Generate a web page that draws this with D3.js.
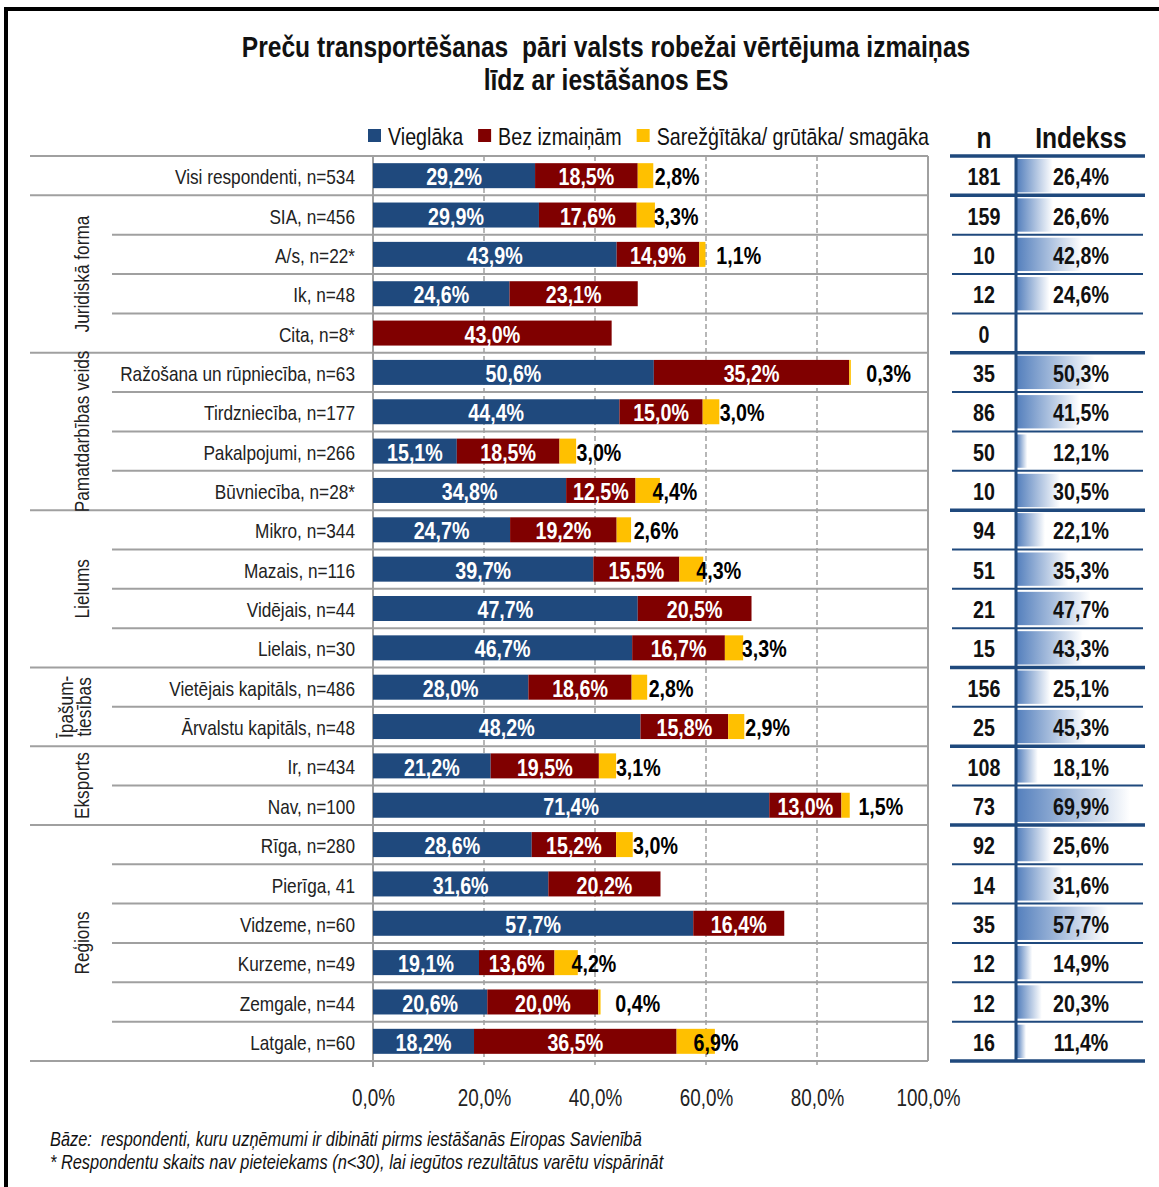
<!DOCTYPE html>
<html>
<head>
<meta charset="utf-8">
<script src="https://cdn.jsdelivr.net/npm/d3@7"></script>
<style>
  body { margin: 0; background: #fff; }
  svg { display: block; }
  text { font-family: "Liberation Sans", Arial, sans-serif; }
</style>
</head>
<body>
<svg id="chart"></svg>
<script>
var titleLines = ["Preču transportēšanas  pāri valsts robežai vērtējuma izmaiņas", "līdz ar iestāšanos ES"];
var seriesNames = ["Vieglāka", "Bez izmaiņām", "Sarežģītāka/ grūtāka/ smagāka"];
var rowLabels = [
  "Visi respondenti, n=534",
  "SIA, n=456", "A/s, n=22*", "Ik, n=48", "Cita, n=8*",
  "Ražošana un rūpniecība, n=63", "Tirdzniecība, n=177", "Pakalpojumi, n=266", "Būvniecība, n=28*",
  "Mikro, n=344", "Mazais, n=116", "Vidējais, n=44", "Lielais, n=30",
  "Vietējais kapitāls, n=486", "Ārvalstu kapitāls, n=48",
  "Ir, n=434", "Nav, n=100",
  "Rīga, n=280", "Pierīga, 41", "Vidzeme, n=60", "Kurzeme, n=49", "Zemgale, n=44", "Latgale, n=60"
];
var groupNames = ["", "Juridiskā forma", "Pamatdarbības veids", "Lielums", "Īpašum-|tiesības", "Eksports", "Reģions"];
var groupSizes = [1, 4, 4, 4, 2, 2, 6];
var easier   = [29.2, 29.9, 43.9, 24.6, 0, 50.6, 44.4, 15.1, 34.8, 24.7, 39.7, 47.7, 46.7, 28.0, 48.2, 21.2, 71.4, 28.6, 31.6, 57.7, 19.1, 20.6, 18.2];
var noChange = [18.5, 17.6, 14.9, 23.1, 43.0, 35.2, 15.0, 18.5, 12.5, 19.2, 15.5, 20.5, 16.7, 18.6, 15.8, 19.5, 13.0, 15.2, 20.2, 16.4, 13.6, 20.0, 36.5];
var harder   = [2.8, 3.3, 1.1, 0, 0, 0.3, 3.0, 3.0, 4.4, 2.6, 4.3, 0, 3.3, 2.8, 2.9, 3.1, 1.5, 3.0, 0, 0, 4.2, 0.4, 6.9];
var nValues  = [181, 159, 10, 12, 0, 35, 86, 50, 10, 94, 51, 21, 15, 156, 25, 108, 73, 92, 14, 35, 12, 12, 16];
var indexValues = [26.4, 26.6, 42.8, 24.6, null, 50.3, 41.5, 12.1, 30.5, 22.1, 35.3, 47.7, 43.3, 25.1, 45.3, 18.1, 69.9, 25.6, 31.6, 57.7, 14.9, 20.3, 11.4];
var xTicks = [0, 20, 40, 60, 80, 100];
var notes = [
  "Bāze:  respondenti, kuru uzņēmumi ir dibināti pirms iestāšanās Eiropas Savienībā",
  "* Respondentu skaits nav pieteiekams (n<30), lai iegūtos rezultātus varētu vispārināt"
];

var colors = ["#1f497d", "#800000", "#ffc000"];
var W = 1159, H = 1187;
var NARROW = 0.82;   // Arial Narrow look: squeeze Liberation Sans horizontally
var fmt = function(v) { return v.toFixed(1).replace(".", ",") + "%"; };

var svg = d3.select("#chart").attr("width", W).attr("height", H);

// helper: narrow text anchored at (x, y)
function ntext(parent, px, py, str, size, opts) {
  opts = opts || {};
  var g = parent.append("g")
    .attr("transform", "translate(" + px + "," + py + ")" + (opts.rotate ? " rotate(" + opts.rotate + ")" : "") + " scale(" + NARROW + ",1)");
  var t = g.append("text")
    .attr("dy", opts.dy || "0.36em")
    .attr("text-anchor", opts.anchor || "start")
    .attr("font-size", size)
    .attr("font-weight", opts.bold ? "bold" : null)
    .attr("font-style", opts.italic ? "italic" : null)
    .attr("fill", opts.fill || "#111")
    .style("white-space", "pre")
    .text(str);
  return t;
}

// outer frame
svg.append("rect")
  .attr("x", 6).attr("y", 9).attr("width", W + 20).attr("height", H + 20)
  .attr("fill", "none").attr("stroke", "#000").attr("stroke-width", 4);

// title
titleLines.forEach(function(line, i) {
  ntext(svg, 606, 46 + i * 33, line, 30, { anchor: "middle", bold: true });
});

var x = d3.scaleLinear().domain([0, 100]).range([373, 928]);
var y = d3.scaleBand().domain(d3.range(rowLabels.length)).range([156, 1061]);
var barH = 25;
var yMid = i => y(i) + y.bandwidth() / 2;

// group boundaries
var bounds = [0];
groupSizes.forEach(s => bounds.push(bounds[bounds.length - 1] + s));
var rowEdge = i => i < rowLabels.length ? y(i) : y.range()[1];

// horizontal row lines
var lineG = svg.append("g");
d3.range(rowLabels.length + 1).forEach(function(i) {
  var isGroup = bounds.indexOf(i) >= 0;
  lineG.append("line")
    .attr("x1", isGroup ? 30 : 112).attr("x2", x(100))
    .attr("y1", rowEdge(i)).attr("y2", rowEdge(i))
    .attr("stroke", "#a0a0a0").attr("stroke-width", 2);
});

// vertical gridlines
svg.append("g").selectAll("line")
  .data(xTicks.slice(1, -1)).enter().append("line")
  .attr("x1", d => x(d)).attr("x2", d => x(d))
  .attr("y1", y.range()[0]).attr("y2", y.range()[1] + 6)
  .attr("stroke", "#a0a0a0").attr("stroke-width", 1.5)
  .attr("stroke-dasharray", "5,3");

[0, 100].forEach(function(v) {
  svg.append("line")
    .attr("x1", x(v)).attr("x2", x(v))
    .attr("y1", y.range()[0]).attr("y2", y.range()[1] + (v === 0 ? 6 : 0))
    .attr("stroke", "#a0a0a0").attr("stroke-width", 2);
});

// stacked bars
var rowsData = rowLabels.map((l, i) => ({ i: i, vals: [easier[i], noChange[i], harder[i]] }));
var stack = d3.stack().keys([0, 1, 2]).value((d, k) => d.vals[k]);
var series = stack(rowsData);

var barG = svg.append("g");
series.forEach(function(s, k) {
  barG.selectAll(null).data(s.filter(d => d[1] - d[0] > 0)).enter().append("rect")
    .attr("x", d => x(d[0]))
    .attr("y", d => y(d.data.i) + (y.bandwidth() - barH) / 2)
    .attr("width", d => x(d[1]) - x(d[0]))
    .attr("height", barH)
    .attr("fill", colors[k]);
});

// segment labels
series.forEach(function(s, k) {
  var inside = k < 2;
  s.filter(d => d[1] - d[0] > 0).forEach(function(d) {
    var px = inside ? (x(d[0]) + x(d[1])) / 2 : x(d[0]) + 17;
    ntext(barG, px, yMid(d.data.i) + 1, fmt(d[1] - d[0]), 24,
      { anchor: inside ? "middle" : "start", bold: true, fill: inside ? "#fff" : "#000" });
  });
});

// row labels
var labG = svg.append("g");
rowLabels.forEach(function(l, i) {
  ntext(labG, 355, yMid(i) + 1, l, 21, { anchor: "end", fill: "#222" });
});

// group labels (rotated)
groupNames.forEach(function(name, g) {
  if (!name) return;
  var yc = (rowEdge(bounds[g]) + rowEdge(bounds[g + 1])) / 2;
  var parts = name.split("|");
  parts.forEach(function(p, j) {
    var px = parts.length > 1 ? 65 + j * 18 : 81;
    ntext(svg, px, yc, p, 21, { anchor: "middle", rotate: -90, fill: "#222" });
  });
});

// x axis
var xAxis = d3.axisBottom(x).tickValues(xTicks).tickFormat(fmt).tickSize(0).tickPadding(0);
var ax = svg.append("g").attr("transform", "translate(0,1090)").call(xAxis);
ax.select(".domain").remove();
ax.selectAll("text")
  .attr("font-size", 23).attr("fill", "#222")
  .attr("font-family", null)
  .attr("transform", "scale(" + NARROW + ",1)");

// legend
var legend = svg.append("g");
var lx = 368;
seriesNames.forEach(function(name, k) {
  legend.append("rect").attr("x", lx).attr("y", 129).attr("width", 13).attr("height", 13).attr("fill", colors[k]);
  var t = ntext(legend, lx + 20, 136, name, 24, { fill: "#111" });
  lx += 20 + t.node().getComputedTextLength() * NARROW + 15;
});

// right table
var tx0 = 950, tx1 = 1143, tDiv = 1016, nX = 984, idxX = 1081;
ntext(svg, nX, 137, "n", 30, { anchor: "middle", bold: true });
ntext(svg, idxX, 137, "Indekss", 30, { anchor: "middle", bold: true });

var defs = svg.append("defs");
var grad = defs.append("linearGradient").attr("id", "dbar").attr("x1", 0).attr("x2", 1).attr("y1", 0).attr("y2", 0);
grad.append("stop").attr("offset", "0%").attr("stop-color", "#5580bd");
grad.append("stop").attr("offset", "100%").attr("stop-color", "#ffffff");

var idxScale = d3.scaleLinear()
  .domain([d3.min(indexValues.filter(v => v != null)), d3.max(indexValues)])
  .range([9, 113]);

var tbl = svg.append("g");
tbl.selectAll("rect").data(indexValues.map((v, i) => ({ v: v, i: i })).filter(d => d.v != null))
  .enter().append("rect")
  .attr("x", tDiv + 1)
  .attr("y", d => y(d.i) + 3)
  .attr("width", d => idxScale(d.v))
  .attr("height", y.bandwidth() - 6)
  .attr("fill", "url(#dbar)");

d3.range(rowLabels.length + 1).forEach(function(i) {
  var isGroup = bounds.indexOf(i) >= 0;
  tbl.append("line")
    .attr("x1", isGroup ? tx0 : tx0 + 2).attr("x2", isGroup ? tx1 + 2 : tx1)
    .attr("y1", rowEdge(i)).attr("y2", rowEdge(i))
    .attr("stroke", "#1f497d").attr("stroke-width", isGroup ? 3.5 : 2);
});
tbl.append("line").attr("x1", tDiv).attr("x2", tDiv).attr("y1", y.range()[0]).attr("y2", y.range()[1] + 1)
  .attr("stroke", "#1f497d").attr("stroke-width", 3);

nValues.forEach(function(v, i) {
  ntext(tbl, nX, yMid(i) + 1, String(v), 24, { anchor: "middle", bold: true });
});
indexValues.forEach(function(v, i) {
  if (v == null) return;
  ntext(tbl, idxX, yMid(i) + 1, fmt(v), 24, { anchor: "middle", bold: true });
});

// footnotes
notes.forEach(function(n, i) {
  ntext(svg, 50, 1146 + i * 23, n, 20, { italic: true, dy: "0", fill: "#111" });
});
</script>
</body>
</html>
